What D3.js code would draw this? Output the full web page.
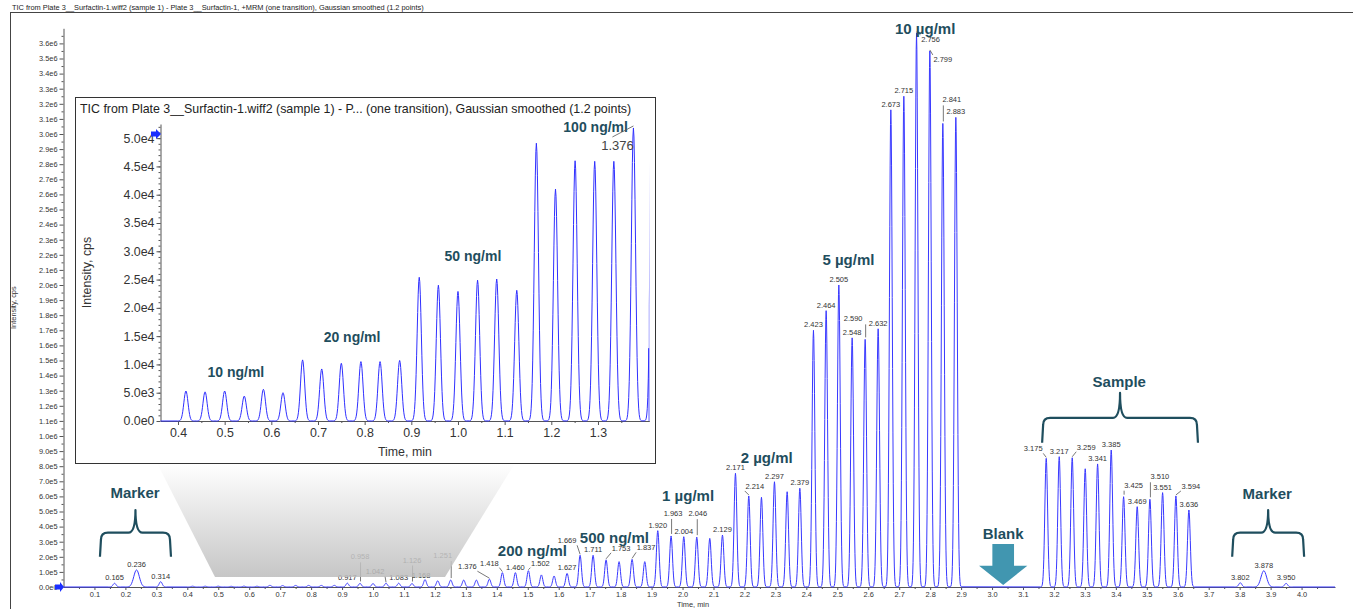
<!DOCTYPE html>
<html lang="en">
<head>
<meta charset="UTF-8" />
<title>TIC - Surfactin calibration run</title>
<script src="https://d3js.org/d3.v7.min.js"></script>
<style>
  body { margin: 0; background: #fff; font-family: Arial, "Liberation Sans", sans-serif; }
  .axis path, .axis line { stroke: #555; }
  .axis text { fill: #333; font-family: Arial, "Liberation Sans", sans-serif; }
  .peak-label { font-size: 7.5px; fill: #333; text-anchor: middle; }
  .leader { stroke: #555; stroke-width: 0.8; }
  .group-label { font-weight: bold; fill: #1f4e5e; text-anchor: middle; dominant-baseline: central; }
  .brace { fill: none; stroke: #1f4e5e; stroke-width: 2.2; stroke-linejoin: round; }
</style>
</head>
<body>
<svg id="chart"></svg>
<script>
// ---- data (time in min, intensity in cps) ----
const markerStartTimes = [0.165, 0.236, 0.314];
const markerStartHeights = [2.45e4, 1.13e5, 3.5e4];
const markerStartWidths = [0.005, 0.009, 0.005];

const calibTimes = [
  0.417, 0.458, 0.500, 0.542, 0.583, 0.625,
  0.667, 0.708, 0.750, 0.792, 0.833, 0.875,
  0.917, 0.958, 1.000, 1.042, 1.083, 1.126,
  1.168, 1.209, 1.251, 1.293, 1.334, 1.376,
  1.418, 1.460, 1.502, 1.544, 1.585, 1.627,
  1.669, 1.711, 1.753, 1.795, 1.837, 1.878,
  1.920, 1.963, 2.004, 2.046, 2.088, 2.129,
  2.171, 2.214, 2.255, 2.297, 2.338, 2.379,
  2.423, 2.464, 2.505, 2.548, 2.590, 2.632,
  2.673, 2.715, 2.756, 2.799, 2.841, 2.883
];
const calibHeights = [
  5300, 5150, 5300, 4400, 5600, 5000,
  10800, 9200, 10200, 10500, 10500, 10700,
  25400, 24000, 22900, 24900, 25100, 23100,
  49100, 41000, 46000, 45900, 45900, 51800,
  95000, 95000, 108000, 80000, 73000, 90000,
  210000, 210000, 180000, 168000, 183000, 168000,
  373000, 338000, 333000, 330000, 322000, 344000,
  753000, 603000, 594000, 697000, 631000, 654000,
  1700000, 1830000, 2000000, 1650000, 1640000, 1710000,
  3160000, 3250000, 3670000, 3550000, 3070000, 3110000
];

const sampleTimes = [3.175, 3.217, 3.259, 3.301, 3.341, 3.385, 3.425, 3.469, 3.510, 3.551, 3.594, 3.636];
const sampleHeights = [852000, 863000, 856000, 783000, 815000, 907000, 598000, 532000, 581000, 625000, 603000, 510000];

const markerEndTimes = [3.802, 3.878, 3.950];
const markerEndHeights = [2.8e4, 1.08e5, 2.4e4];
const markerEndWidths = [0.005, 0.009, 0.005];

// peaks that carry a retention-time label in the main plot
const mainLabelTimes = [
  0.165, 0.236, 0.314, 0.917, 0.958, 1.042, 1.083, 1.126, 1.168, 1.251,
  1.376, 1.418, 1.460, 1.502, 1.627, 1.669, 1.711, 1.753, 1.837,
  1.920, 1.963, 2.004, 2.046, 2.129, 2.171, 2.214, 2.297, 2.379,
  2.423, 2.464, 2.505, 2.548, 2.590, 2.632, 2.673, 2.715, 2.756, 2.799, 2.841, 2.883,
  3.175, 3.217, 3.259, 3.341, 3.385, 3.425, 3.469, 3.510, 3.551, 3.594, 3.636,
  3.802, 3.878, 3.950
];

const mainGroupLabels = ["200 ng/ml", "500 ng/ml", "1 µg/ml", "2 µg/ml", "5 µg/ml", "10 µg/ml",
                         "Marker", "Marker", "Sample", "Blank"];
const insetGroupLabels = ["10 ng/ml", "20 ng/ml", "50 ng/ml", "100 ng/ml"];

const titleMain = "TIC from Plate 3__Surfactin-1.wiff2 (sample 1) - Plate 3__Surfactin-1, +MRM (one transition), Gaussian smoothed (1.2 points)";
const titleInset = "TIC from Plate 3__Surfactin-1.wiff2 (sample 1) - P... (one transition), Gaussian smoothed (1.2 points)";

// ---- layout (label anchors in data units, nudges in px) ----
const mainGroupAnchors = [[1.515, 2.40e5], [1.780, 3.29e5], [2.018, 6.03e5], [2.272, 8.59e5],
  [2.536, 2.166e6], [2.784, 3.70e6], [0.231, 6.23e5], [3.889, 6.2e5], [3.411, 1.36e6], [3.036, 3.56e5]];
const insetGroupAnchors = [[0.524, 8660], [0.773, 14900], [1.032, 29200], [1.295, 52000]];

// [dx, dy, leader type]
const labelNudges = {
  "0.958": [0, -24, "v"], "1.042": [-11, -9, "d"], "1.126": [0, -21, "v"], "1.168": [-4, -2],
  "1.251": [-8, -22, "v"], "1.376": [-22, -10, "d"], "1.418": [-13, -7, "d"], "1.502": [12, -5, "d"],
  "1.669": [-13, -12, "d"], "1.753": [15, -9, "d"], "1.837": [14, -9, "d"], "1.963": [2, -20, "v"],
  "2.046": [1, -21, "v"], "2.214": [6, -7, "d"], "2.590": [-12, -18, "v"], "2.756": [14, 9, "d"],
  "2.799": [13, 11, "d"], "2.841": [9, -21, "v"], "3.175": [-13, -7, "d"], "3.259": [14, -8, "d"],
  "3.425": [10, -9, "v"], "3.510": [10, -20, "v"], "3.594": [15, -7, "d"]
};

const W = 1353, H = 609;
const svg = d3.select("#chart").attr("width", W).attr("height", H);
svg.append("rect").attr("width", W).attr("height", H).attr("fill", "#fff");

// collect all peaks
const peaks = [];
function addPeaks(times, heights, widths) {
  times.forEach((t, i) => peaks.push({ t: t, h: heights[i], s: widths ? widths[i] : 0.0045 }));
}
addPeaks(markerStartTimes, markerStartHeights, markerStartWidths);
addPeaks(calibTimes, calibHeights);
addPeaks(sampleTimes, sampleHeights);
addPeaks(markerEndTimes, markerEndHeights, markerEndWidths);
const peakByLabel = new Map(peaks.map(p => [p.t.toFixed(3), p]));

// each peak drawn with a gaussian profile on the baseline
const steps = d3.range(-4, 4.01, 0.25);
function tracePoints(list, t0, t1) {
  const pts = [[t0, 0]];
  list.forEach(p => steps.forEach(k => pts.push([p.t + k * p.s, p.h * Math.exp(-k * k / 2)])));
  pts.push([t1, 0]);
  return pts.sort((a, b) => a[0] - b[0]);
}

const sci = v => v === 0 ? "0.0e0" : d3.format(".1e")(v).replace("e+", "e");

// frame + title
svg.append("line").attr("x1", 10).attr("x2", W).attr("y1", 12.5).attr("y2", 12.5).attr("stroke", "#444");
svg.append("line").attr("x1", 10.5).attr("x2", 10.5).attr("y1", 12.5).attr("y2", H).attr("stroke", "#444");
svg.append("text").attr("x", 12).attr("y", 9.5).attr("font-size", 7.4).attr("fill", "#222").text(titleMain);

// ---- main plot ----
const x = d3.scaleLinear().domain([0, 4.108]).range([63.5, 1335]);
const y = d3.scaleLinear().domain([0, 3.7e6]).range([587, 28.3]);

const gx = svg.append("g").attr("class", "axis").attr("transform", "translate(0,587)")
  .call(d3.axisBottom(x).tickValues(d3.range(0.1, 4.05, 0.1)).tickFormat(d3.format(".1f"))
    .tickSize(3).tickPadding(2).tickSizeOuter(0));
gx.selectAll("text").attr("font-size", 7.4);
svg.append("g").attr("class", "axis").attr("transform", "translate(0,587)")
  .call(d3.axisBottom(x).tickValues(d3.range(0.05, 4.1, 0.1)).tickFormat("").tickSize(2).tickSizeOuter(0))
  .select(".domain").remove();

const gy = svg.append("g").attr("class", "axis").attr("transform", "translate(63.5,0)")
  .call(d3.axisLeft(y).tickValues(d3.range(0, 3.65e6, 1e5)).tickFormat(sci)
    .tickSize(4).tickPadding(2).tickSizeOuter(0));
gy.selectAll("text").attr("font-size", 7.4);
svg.append("g").attr("class", "axis").attr("transform", "translate(63.5,0)")
  .call(d3.axisLeft(y).tickValues(d3.range(5e4, 3.7e6, 1e5)).tickFormat("").tickSize(2).tickSizeOuter(0))
  .select(".domain").remove();

svg.append("text").attr("transform", "translate(16," + (y(1.85e6)) + ") rotate(-90)")
  .attr("text-anchor", "middle").attr("font-size", 7.4).attr("fill", "#333").text("Intensity, cps");
svg.append("text").attr("x", 693).attr("y", 607).attr("text-anchor", "middle")
  .attr("font-size", 7.4).attr("fill", "#333").text("Time, min");

const line = d3.line().x(d => x(d[0])).y(d => y(d[1]));
svg.append("path").datum(tracePoints(peaks, 0, 4.108))
  .attr("d", line).attr("fill", "none").attr("stroke", "#3838ff").attr("stroke-width", 1);

// threshold arrow on the baseline
svg.append("path").attr("d", "M55,584.5 L60,584.5 L60,582 L64,587 L60,592 L60,589.5 L55,589.5 Z")
  .attr("fill", "#1a2eff");

// peak labels
mainLabelTimes.forEach(t => {
  const key = t.toFixed(3);
  const p = peakByLabel.get(key);
  const n = labelNudges[key] || [0, -3];
  const ax = x(p.t), ay = y(p.h);
  const lx = ax + n[0], ly = ay + n[1];
  svg.append("text").attr("class", "peak-label").attr("x", lx).attr("y", ly).text(key);
  if (n[2] === "v") {
    svg.append("line").attr("class", "leader")
      .attr("x1", ax + 0.5).attr("x2", ax + 0.5).attr("y1", ly + 3).attr("y2", ay - 2);
  } else if (n[2] === "d") {
    const sx = lx - Math.sign(n[0]) * 10;
    const sy = n[1] > 0 ? ly - 7 : ly + 2;
    svg.append("line").attr("class", "leader")
      .attr("x1", sx).attr("y1", sy).attr("x2", ax).attr("y2", ay - 1);
  }
});

// braces
function bracePath(t0, t1, vEnd, vBar, vTip) {
  const x0 = x(t0), x1 = x(t1), xm = (x0 + x1) / 2;
  const ye = y(vEnd), yb = y(vBar), yt = y(vTip), r = 7;
  return `M${x0 - 1},${ye} L${x0},${yb + r} Q${x0},${yb} ${x0 + r},${yb} L${xm - r},${yb} ` +
    `Q${xm},${yb} ${xm},${yt} Q${xm},${yb} ${xm + r},${yb} L${x1 - r},${yb} ` +
    `Q${x1},${yb} ${x1},${yb + r} L${x1 + 1},${ye}`;
}
const braces = [[0.121, 0.344, 2.0e5, 3.6e5, 5.1e5], [3.779, 4.005, 2.0e5, 3.6e5, 5.1e5],
                [3.165, 3.662, 9.55e5, 1.12e6, 1.285e6]];
braces.forEach(b => svg.append("path").attr("class", "brace").attr("d", bracePath(...b)));

// blank arrow
(function () {
  const cx = x(3.036), k = x(1) - x(0);
  const hw = 0.035 * k, hh = 0.078 * k;
  const yTop = y(2.85e5), yHead = y(1.4e5), yTip = y(1.3e4);
  svg.append("path").attr("fill", "#4196b0")
    .attr("d", `M${cx - hw},${yTop} L${cx + hw},${yTop} L${cx + hw},${yHead} L${cx + hh},${yHead} ` +
      `L${cx},${yTip} L${cx - hh},${yHead} L${cx - hw},${yHead} Z`);
})();

// zoom callout shading
const grad = svg.append("defs").append("linearGradient").attr("id", "fade")
  .attr("x1", 0).attr("y1", 0).attr("x2", 0).attr("y2", 1);
grad.append("stop").attr("offset", 0).attr("stop-color", "#ffffff").attr("stop-opacity", 0.85);
grad.append("stop").attr("offset", 1).attr("stop-color", "#bcbcbc").attr("stop-opacity", 0.85);
svg.append("polygon").attr("points", "157,463 515,463 445,577 215,577").attr("fill", "url(#fade)");

mainGroupLabels.forEach((s, i) => {
  const a = mainGroupAnchors[i];
  svg.append("text").attr("class", "group-label").attr("font-size", 15)
    .attr("x", x(a[0])).attr("y", y(a[1])).text(s);
});

// ---- inset ----
const inset = svg.append("g");
inset.append("rect").attr("x", 75.5).attr("y", 97.5).attr("width", 580).attr("height", 366)
  .attr("fill", "#fff").attr("stroke", "#333");
inset.append("text").attr("x", 80).attr("y", 113).attr("font-size", 12.4).attr("fill", "#222").text(titleInset);

const xi = d3.scaleLinear().domain([0.3625, 1.41]).range([160.5, 649.3]);
const yi = d3.scaleLinear().domain([0, 5.25e4]).range([421, 124]);

inset.append("clipPath").attr("id", "insetClip").append("rect")
  .attr("x", xi.range()[0]).attr("y", 118).attr("width", xi.range()[1] - xi.range()[0]).attr("height", 304);

const gxi = inset.append("g").attr("class", "axis").attr("transform", "translate(0,421)")
  .call(d3.axisBottom(xi).tickValues(d3.range(0.4, 1.35, 0.1)).tickFormat(d3.format(".1f"))
    .tickSize(4).tickPadding(3).tickSizeOuter(0));
gxi.selectAll("text").attr("font-size", 12.4);
inset.append("g").attr("class", "axis").attr("transform", "translate(0,421)")
  .call(d3.axisBottom(xi).tickValues(d3.range(0.45, 1.41, 0.1)).tickFormat("").tickSize(2).tickSizeOuter(0))
  .select(".domain").remove();

const gyi = inset.append("g").attr("class", "axis").attr("transform", "translate(" + xi.range()[0] + ",0)")
  .call(d3.axisLeft(yi).tickValues(d3.range(0, 50001, 5000)).tickFormat(sci)
    .tickSize(4).tickPadding(2).tickSizeOuter(0));
gyi.selectAll("text").attr("font-size", 12.4);
inset.append("g").attr("class", "axis").attr("transform", "translate(" + xi.range()[0] + ",0)")
  .call(d3.axisLeft(yi).tickValues(d3.range(1000, 52001, 1000)).tickFormat("").tickSize(2).tickSizeOuter(0))
  .select(".domain").remove();

inset.append("text").attr("x", (xi.range()[0] + xi.range()[1]) / 2).attr("y", 456)
  .attr("text-anchor", "middle").attr("font-size", 12.4).attr("fill", "#333").text("Time, min");
inset.append("text").attr("transform", "translate(91," + ((yi.range()[0] + yi.range()[1]) / 2) + ") rotate(-90)")
  .attr("text-anchor", "middle").attr("font-size", 12.4).attr("fill", "#333").text("Intensity, cps");

const linei = d3.line().x(d => xi(d[0])).y(d => yi(d[1]));
inset.append("path").attr("clip-path", "url(#insetClip)")
  .datum(tracePoints(peaks.filter(p => p.t > 0.3 && p.t < 1.5), 0.3625, 1.41))
  .attr("d", linei).attr("fill", "none").attr("stroke", "#3030ff").attr("stroke-width", 1);

inset.append("path").attr("d", "M151,131.5 L156,131.5 L156,129 L161,134 L156,139 L156,136.5 L151,136.5 Z")
  .attr("fill", "#1a2eff");

insetGroupLabels.forEach((s, i) => {
  const a = insetGroupAnchors[i];
  inset.append("text").attr("class", "group-label").attr("font-size", 14)
    .attr("x", xi(a[0])).attr("y", yi(a[1])).text(s);
});

// 1.376 apex label in the inset
(function () {
  const p = peakByLabel.get("1.376");
  const ax = xi(p.t), ay = yi(p.h);
  inset.append("line").attr("class", "leader").attr("x1", ax - 21).attr("y1", ay + 9).attr("x2", ax).attr("y2", ay - 2);
  inset.append("text").attr("x", ax - 16).attr("y", ay + 22).attr("text-anchor", "middle")
    .attr("font-size", 13).attr("fill", "#444").text("1.376");
})();
</script>
</body>
</html>
